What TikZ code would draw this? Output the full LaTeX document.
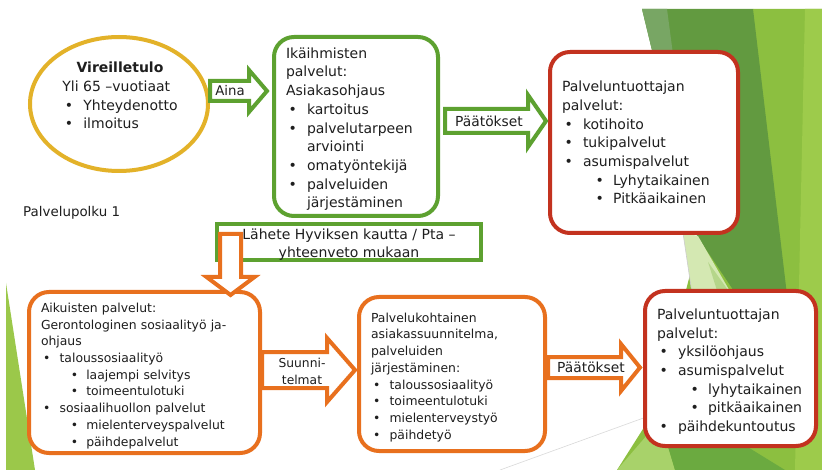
\documentclass[tikz,border=0pt]{standalone}
\usepackage{fontspec}
\setmainfont{DejaVu Sans}
\usetikzlibrary{calc,shapes.geometric}
\lefthyphenmin=62
\definecolor{pgreen}{HTML}{5DA130}
\definecolor{pred}{HTML}{C3321F}
\definecolor{porange}{HTML}{E8701E}
\definecolor{pgold}{HTML}{E3B229}
\definecolor{ptext}{HTML}{1E1E1E}
\definecolor{bgyg}{HTML}{8CBF40}
\definecolor{bglight}{HTML}{9DCB4B}
\definecolor{bgdark}{HTML}{629A40}
\definecolor{bggray}{HTML}{78A664}
\definecolor{bgpale}{HTML}{D4E8B2}
\definecolor{bglg}{HTML}{B5D68A}
\definecolor{bgbot}{HTML}{6BAA40}
\definecolor{bgbotl}{HTML}{A8D26A}
\definecolor{bglime}{HTML}{9BC84A}
\newcommand\bi[1]{\hspace*{0.18em}\makebox[1.32em][l]{•}#1}
\newcommand\bii[1]{\hspace*{2.4em}\makebox[1.25em][l]{•}#1}
% horizontal block arrow: style, start, tip, shaft half, head half, head length
\newcommand\hblock[6]{\draw[#1] ($(#2)+(0,-#4)$) -- ($(#3)+(-#6,-#4)$) -- ($(#3)+(-#6,-#5)$) -- (#3) -- ($(#3)+(-#6,#5)$) -- ($(#3)+(-#6,#4)$) -- ($(#2)+(0,#4)$) -- cycle;}
% vertical (downward) block arrow
\newcommand\vblock[6]{\draw[#1] ($(#2)+(-#4,0)$) -- ($(#3)+(-#4,-#6)$) -- ($(#3)+(-#5,-#6)$) -- (#3) -- ($(#3)+(#5,-#6)$) -- ($(#3)+(#4,-#6)$) -- ($(#2)+(#4,0)$) -- cycle;}
\tikzset{
  big/.style={font=\fontsize{14}{18.7}\selectfont},
  small/.style={font=\fontsize{12.4}{16.7}\selectfont},
  pbox/.style={rectangle, rounded corners=20, line width=4pt, fill=white, align=left,
    inner xsep=12pt, inner ysep=0pt, text=ptext},
  garrow/.style={draw=pgreen, line width=4pt, fill=white},
  oarrow/.style={draw=porange, line width=4pt, fill=white},
  lbl/.style={text=ptext, inner sep=0pt},
}
\begin{document}
\begin{tikzpicture}[x=1pt,y=-1pt]
\useasboundingbox (0,0) rectangle (822,470);
\fill[white] (0,0) rectangle (822,470);
% background facets
\fill[bgyg] (700,236) -- (753,9) -- (822,9) -- (822,470) -- (617,470) -- (655,410) -- cycle;
\fill[bglight] (805,9) -- (822,9) -- (822,470) -- (795,470) -- cycle;
\fill[bgdark] (642,9) -- (753,9) -- (787,295) -- (750,315) -- (697,236) -- cycle;
\fill[bggray] (642,9) -- (667,9) -- (697,236) -- cycle;
\fill[bgpale] (683,233) -- (698,236) -- (735,300) -- (693,300) -- cycle;
\fill[bglg] (708,262) -- (735,300) -- (720,300) -- cycle;
\fill[bgbotl] (617,470) -- (660,420) -- (675,470) -- cycle;
\fill[bgbot] (660,420) -- (720,430) -- (785,470) -- (675,470) -- cycle;
\draw[black!15, line width=0.6pt] (500,470) -- (660,412);
\draw[black!20, line width=0.6pt] (683,233) -- (693,300);
\fill[bglime] (6,283) -- (6,470) -- (35,470) -- cycle;

% top row
\node[ellipse, draw=pgold, line width=4pt, fill=white, minimum width=178pt, minimum height=134pt, inner sep=0pt] (vire) at (119,104) {};
\node[lbl, big] (viretext) at (120,97) {\begin{tabular}{@{}l@{}}\multicolumn{1}{@{}c@{}}{\bfseries Vireilletulo}\\ Yli 65 –vuotiaat\\ \bi{Yhteydenotto}\\ \bi{ilmoitus}\end{tabular}};

\node[pbox, big, draw=pgreen, minimum width=164pt, minimum height=179pt, text width=140pt] (gbox) at (356,126.5)
 {\rule{0pt}{16pt}Ikäihmisten\\ palvelut:\\ Asiakasohjaus\\ \bi{kartoitus}\\ \bi{palvelutarpeen}\\ \hspace*{1.5em}arviointi\\ \bi{omatyöntekijä}\\ \bi{palveluiden}\\ \hspace*{1.5em}järjestäminen};

\node[pbox, big, draw=pred, minimum width=188pt, minimum height=181pt, text width=164pt] (rbox1) at (644,142.5)
 {Palveluntuottajan\\ palvelut:\\ \bi{kotihoito}\\ \bi{tukipalvelut}\\ \bi{asumispalvelut}\\ \bii{Lyhytaikainen}\\ \bii{Pitkäaikainen}};

\coordinate (ainaS) at (210,91);
\coordinate (ainaT) at (267,91);
\hblock{garrow}{ainaS}{ainaT}{10}{21}{18}
\node[lbl, font=\fontsize{13.3}{16}\selectfont] (aina) at (230,91) {Aina};

\coordinate (pg1S) at (445,121);
\coordinate (pg1T) at (546,121);
\hblock{garrow}{pg1S}{pg1T}{12}{26}{18}
\node[lbl, font=\fontsize{13.8}{16}\selectfont] (pg1) at (489,121) {Päätökset};

\node[lbl, anchor=west, font=\fontsize{13.4}{16}\selectfont] (polku) at (23,213) {Palvelupolku 1};

% referral
\node[rectangle, draw=pgreen, line width=4pt, fill=white, minimum width=264pt, minimum height=36pt, inner sep=0pt, align=center, text=ptext, font=\fontsize{14}{18}\selectfont] (lahete) at (349,242)
 {\rule{0pt}{16pt}Lähete Hyviksen kautta / Pta –\\ yhteenveto mukaan};

% bottom row
\node[pbox, small, draw=porange, minimum width=231pt, minimum height=161pt, text width=207pt] (obox1) at (144.5,372.5)
 {\rule{0pt}{16pt}Aikuisten palvelut:\\ Gerontologinen sosiaalityö ja-\\ ohjaus\\ \bi{taloussosiaalityö}\\ \bii{laajempi selvitys}\\ \bii{toimeentulotuki}\\ \bi{sosiaalihuollon palvelut}\\ \bii{mielenterveyspalvelut}\\ \bii{päihdepalvelut}};

\node[pbox, small, draw=porange, minimum width=186pt, minimum height=154pt, text width=162pt] (obox2) at (452,374)
 {\rule{0pt}{16pt}Palvelukohtainen\\ asiakassuunnitelma,\\ palveluiden\\ järjestäminen:\\ \bi{taloussosiaalityö}\\ \bi{toimeentulotuki}\\ \bi{mielenterveystyö}\\ \bi{päihdetyö}};

\node[pbox, big, draw=pred, minimum width=171pt, minimum height=155pt, text width=147pt] (rbox2) at (730.5,368.5)
 {\rule{0pt}{17pt}Palveluntuottajan\\ palvelut:\\ \bi{yksilöohjaus}\\ \bi{asumispalvelut}\\ \bii{lyhytaikainen}\\ \bii{pitkäaikainen}\\ \bi{päihdekuntoutus}};

\coordinate (downS) at (230.5,234);
\coordinate (downT) at (230.5,295);
\vblock{oarrow}{downS}{downT}{10.5}{24}{18}

\coordinate (suS) at (262,370);
\coordinate (suT) at (355,370);
\hblock{oarrow}{suS}{suT}{18}{32}{28}
\node[lbl, align=center, font=\fontsize{12.3}{17}\selectfont] (suunn) at (302,371) {Suunni-\\ telmat};

\coordinate (pg2S) at (548,367.5);
\coordinate (pg2T) at (640,367.5);
\hblock{oarrow}{pg2S}{pg2T}{10.5}{23.5}{19}
\node[lbl, font=\fontsize{13.8}{16}\selectfont] (pg2) at (591,367.5) {Päätökset};
\end{tikzpicture}
\end{document}
